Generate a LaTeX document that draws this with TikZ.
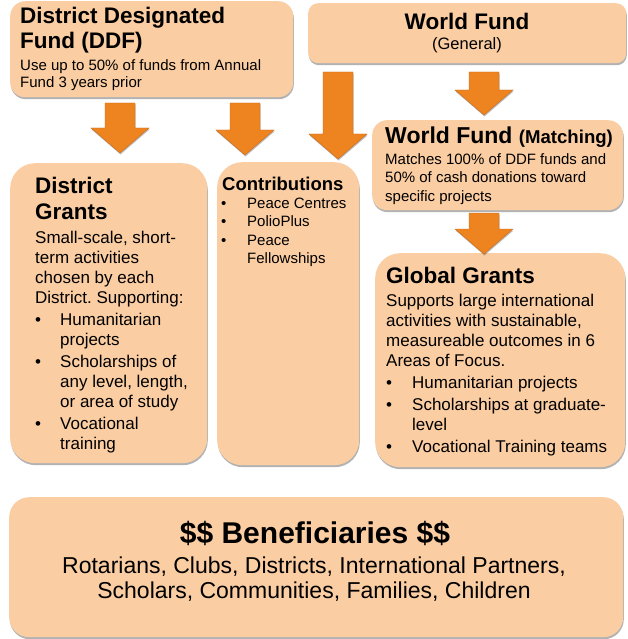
\documentclass[tikz,border=0pt]{standalone}
\usepackage{fontspec}
\setmainfont{Liberation Sans}
\usepackage{tikz}
\usetikzlibrary{calc,shadows,positioning}
\frenchspacing

\definecolor{peach}{HTML}{FBCDA2}
\definecolor{fundorange}{HTML}{EE8420}
\definecolor{fundedge}{HTML}{C8691A}

% bullet with a fixed box width, and the indent of a continued line
\newcommand{\bul}[1][25pt]{\makebox[#1][l]{\textbullet}}
\newcommand{\cont}[1][25pt]{\hspace*{#1}}

% thick block arrow pointing down, from a top coordinate to a tip coordinate
\newcommand{\fatdown}[2]{%
  \path[fatarrow] let \p1=(#1), \p2=(#2) in
    (\x1-15pt,\y1) -- (\x1+15pt,\y1) -- (\x1+15pt,\y2+25pt) -- (\x1+29pt,\y2+25pt)
    -- (\x1,\y2) -- (\x1-29pt,\y2+25pt) -- (\x1-15pt,\y2+25pt) -- cycle;}

\tikzset{
  fundbox/.style={fill=peach, draw=none, rounded corners=#1, anchor=north west, inner sep=0pt,
    drop shadow={shadow xshift=0.6pt, shadow yshift=-2pt, opacity=0.3, fill=black}},
  fundbox/.default=15pt,
  headtext/.style={anchor=base west, inner sep=0pt, align=left,
    font=\fontsize{22.5}{26}\bfseries\selectfont},
  bodytext/.style={anchor=base west, inner sep=0pt, align=left,
    font=\fontsize{17}{20}\selectfont},
  fatarrow/.style={fill=fundorange, draw=fundedge, line width=0.4pt,
    drop shadow={shadow xshift=0.5pt, shadow yshift=-1.5pt, opacity=0.25, fill=black}}
}

\begin{document}
\begin{tikzpicture}[x=1pt,y=-1pt]
\useasboundingbox (0,0) rectangle (627,639);

% Top row: the two funds (multi-line texts sit on their last baseline)
\node[fundbox, minimum width=283pt, minimum height=96pt] (ddf) at (10,1) {};
\node[headtext, font=\fontsize{22.5}{25}\bfseries\selectfont] (ddfhead) at (20,49) {District Designated\\Fund (DDF)};
\node[bodytext, font=\fontsize{15}{17}\selectfont] (ddfnote) at (20,88)
  {Use up to 50\% of funds from Annual\\Fund 3 years prior};

\node[fundbox=10pt, minimum width=318pt, minimum height=60pt] (wfgen) at (308,3) {};
\node[anchor=base, inner sep=0pt, font=\fontsize{22.5}{26}\bfseries\selectfont] (wfgenhead) at (467,30) {World Fund};
\node[anchor=base, inner sep=0pt, font=\fontsize{16.5}{19}\selectfont] (wfgennote) at (467,50) {(General)};

% Matching fund
\node[fundbox, minimum width=251pt, minimum height=90pt] (wfmatch) at (372,120) {};
\node[headtext, font=\fontsize{23}{26}\bfseries\selectfont] (wfmatchhead) at (385,144)
  {World Fund {\fontsize{18.6}{20}\selectfont(Matching)}};
\node[bodytext, font=\fontsize{15}{18.5}\selectfont] (wfmatchnote) at (385,201)
  {Matches 100\% of DDF funds and\\50\% of cash donations toward\\specific projects};

% Middle row: grants and contributions
\node[fundbox=25pt, minimum width=197pt, minimum height=300pt] (dgrants) at (10,163) {};
\node[headtext] (dghead) at (35,219) {District\\Grants};
\node[bodytext] (dgnote) at (35,449)
  {Small-scale, short-\\term activities\\chosen by each\\District. Supporting:\\[2pt]
   \bul Humanitarian\\\cont projects\\[2pt]
   \bul Scholarships of\\\cont any level, length,\\\cont or area of study\\[2pt]
   \bul Vocational\\\cont training};

\node[fundbox=25pt, minimum width=142pt, minimum height=303pt] (contrib) at (217,162) {};
\node[headtext, font=\fontsize{18.5}{21}\bfseries\selectfont] (contribhead) at (222,190) {Contributions};
\node[bodytext, font=\fontsize{15}{18}\selectfont] (contribnote) at (221,263)
  {\bul[26pt]Peace Centres\\
   \bul[26pt]PolioPlus\\[1pt]
   \bul[26pt]Peace\\\cont[26pt]Fellowships};

\node[fundbox=25pt, minimum width=250pt, minimum height=214pt] (ggrants) at (375,253) {};
\node[headtext] (gghead) at (386,283) {Global Grants};
\node[bodytext] (ggnote) at (386,452)
  {Supports large international\\activities with sustainable,\\measureable outcomes in 6\\Areas of Focus.\\[2pt]
   \bul[26pt]Humanitarian projects\\[2pt]
   \bul[26pt]Scholarships at graduate-\\\cont[26pt]level\\[2pt]
   \bul[26pt]Vocational Training teams};

% Bottom: who benefits
\node[fundbox=20pt, minimum width=614pt, minimum height=140pt] (benef) at (9,497) {};
\node[anchor=base, inner sep=0pt, font=\fontsize{30}{34}\bfseries\selectfont] (benefhead) at (315,543)
  {\$\$ Beneficiaries \$\$};
\node[anchor=base, inner sep=0pt, align=center, font=\fontsize{23}{25}\selectfont] (benefnote) at (314,598)
  {Rotarians, Clubs, Districts, International Partners,\\Scholars, Communities, Families, Children};

% Block arrows between the boxes
\coordinate (dgtop) at (120,103);   \coordinate (dgtip) at (120,153);
\coordinate (cttop) at (245,103);   \coordinate (cttip) at (245,155);
\coordinate (wctop) at (338,72);    \coordinate (wctip) at (338,159);
\coordinate (wmtop) at (484,72);    \coordinate (wmtip) at (484,115);
\coordinate (ggtop) at (484,213);   \coordinate (ggtip) at (484,254);
\fatdown{dgtop}{dgtip}
\fatdown{cttop}{cttip}
\fatdown{wctop}{wctip}
\fatdown{wmtop}{wmtip}
\fatdown{ggtop}{ggtip}

\end{tikzpicture}
\end{document}
